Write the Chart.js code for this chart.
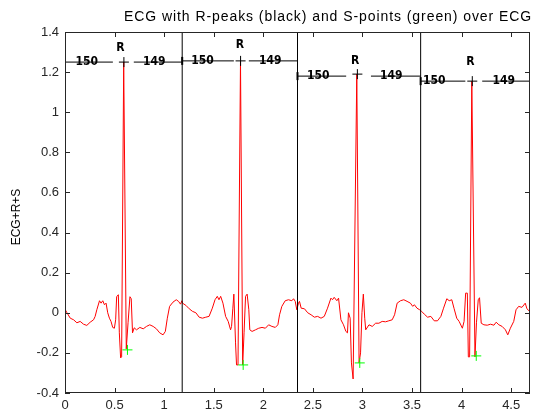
<!DOCTYPE html>
<html>
<head>
<meta charset="utf-8">
<script src="https://cdn.jsdelivr.net/npm/chart.js@4.4.1/dist/chart.umd.min.js"></script>
<style>
  body { margin: 0; background: #fff; }
  #ecgCanvas { display: block; }
</style>
</head>
<body>
<canvas id="ecgCanvas" width="536" height="414"></canvas>
<script>
// ECG trace (time in s, amplitude)
var ecgT = [
  0.003, 0.02, 0.053, 0.087, 0.12, 0.153, 0.187, 0.22, 0.254, 0.288, 0.304, 0.321, 0.348, 0.364, 0.381, 0.398,
  0.414, 0.431, 0.448, 0.464, 0.481, 0.498, 0.511, 0.521, 0.538, 0.548, 0.561, 0.571, 0.592, 0.618, 0.636, 0.655,
  0.668, 0.681, 0.698, 0.721, 0.755, 0.789, 0.822, 0.855, 0.889, 0.922, 0.955, 0.989, 1.012, 1.032, 1.055, 1.089,
  1.122, 1.145, 1.165, 1.179,
  1.185, 1.219, 1.253, 1.286, 1.32, 1.353, 1.386, 1.42, 1.453, 1.486, 1.513, 1.536, 1.553, 1.57, 1.593, 1.62,
  1.646, 1.67, 1.68, 1.693, 1.703, 1.72, 1.73, 1.745, 1.770, 1.792, 1.806, 1.821, 1.837, 1.854, 1.864, 1.887,
  1.921, 1.954, 1.987, 2.021, 2.054, 2.087, 2.121, 2.147, 2.164, 2.187, 2.221, 2.254, 2.288, 2.305, 2.322, 2.338,
  2.355,
  2.365, 2.382, 2.415, 2.448, 2.482, 2.515, 2.548, 2.582, 2.615, 2.648, 2.682, 2.698, 2.715, 2.742, 2.759, 2.783,
  2.809, 2.833, 2.849, 2.859, 2.876, 2.889, 2.906, 2.943, 2.966, 2.981, 2.995, 3.009, 3.023, 3.033, 3.066, 3.099,
  3.133, 3.166, 3.199, 3.233, 3.266, 3.3, 3.324, 3.35, 3.384, 3.417, 3.45, 3.484, 3.507, 3.524, 3.55, 3.577,
  3.597,
  3.624, 3.657, 3.69, 3.724, 3.757, 3.791, 3.818, 3.851, 3.875, 3.901, 3.925, 3.951, 3.975, 4.008, 4.025, 4.041,
  4.058, 4.068, 4.081, 4.103, 4.135, 4.15, 4.168, 4.181, 4.198, 4.225, 4.259, 4.292, 4.326, 4.349, 4.376, 4.409,
  4.442, 4.466, 4.492, 4.526, 4.549, 4.576, 4.609, 4.642, 4.659, 4.68
];
var ecgV = [
  0.015, 0.0, -0.027, -0.035, -0.05, -0.043, -0.057, -0.063, -0.047, -0.035, -0.018, 0.015, 0.06, 0.048, 0.06, 0.04,
  0.048, 0.0, -0.027, -0.043, -0.073, -0.077, -0.035, 0.08, 0.09, -0.1, -0.225, -0.22, 1.25, -0.18, -0.05, 0.08,
  0.07, -0.1, -0.075, -0.085, -0.073, -0.08, -0.068, -0.06, -0.068, -0.08, -0.1, -0.11, -0.093, -0.027, 0.032, 0.053,
  0.065, 0.057, 0.043, 0.06,
  0.048, 0.037, 0.02, 0.007, 0.0, -0.022, -0.027, -0.022, -0.018, 0.023, 0.065, 0.082, 0.065, 0.082, 0.048, -0.018,
  -0.043, -0.085, -0.068, 0.023, 0.093, -0.15, -0.26, -0.26, 1.256, -0.26, -0.1, 0.082, 0.093, 0.015, -0.085, -0.093,
  -0.085, -0.077, -0.073, -0.077, -0.06, -0.068, -0.073, -0.06, -0.01, 0.032, 0.06, 0.065, 0.06, 0.07, 0.057, 0.015,
  0.048,
  0.057, 0.023, 0.02, 0.0, -0.01, -0.022, -0.018, -0.027, -0.018, 0.023, 0.073, 0.065, 0.077, 0.06, 0.073, -0.035,
  -0.06, -0.093, -0.1, 0.0, -0.027, -0.25, -0.33, 1.19, -0.25, -0.2, 0.0, 0.093, -0.027, -0.085, -0.06, -0.068,
  -0.052, -0.052, -0.043, -0.045, -0.04, -0.035, -0.01, 0.048, 0.06, 0.065, 0.057, 0.048, 0.032, 0.04, 0.023, 0.015,
  0.007,
  -0.007, -0.022, -0.018, -0.04, -0.04, -0.018, 0.023, 0.07, 0.06, 0.065, 0.02, -0.027, -0.043, -0.077, -0.043, 0.098,
  0.098, -0.22, -0.22, 1.155, -0.22, -0.05, 0.065, 0.075, -0.052, -0.06, -0.062, -0.057, -0.062, -0.047, -0.06, -0.068,
  -0.085, -0.11, -0.077, -0.043, 0.015, 0.032, 0.027, 0.048, 0.02, 0.01
];

// R-peaks (black) and S-points (green)
var rT = [0.594, 1.771, 2.949, 4.108];
var rV = [1.25, 1.256, 1.19, 1.155];
var sT = [0.63, 1.797, 2.973, 4.148];
var sV = [-0.185, -0.26, -0.25, -0.215];

// beat windows
var winStart = [0, 1.182, 2.345, 3.587];
var winEnd = [1.182, 2.345, 3.587, 4.69];
var winLevel = [1.25, 1.256, 1.18, 1.155];
var gapFrom = [0.483, 1.703, 2.836, 4.038];
var gapTo = [0.694, 1.854, 3.086, 4.208];
var leftCount = ['150', '150', '150', '150'];
var rightCount = ['149', '149', '149', '149'];
var leftLabelT = [0.22, 1.386, 2.555, 3.724];
var rightLabelT = [0.9, 2.07, 3.29, 4.426];
var rLabelT = [0.56, 1.764, 2.926, 4.088];
var rLabelV = [1.32, 1.335, 1.255, 1.25];

var xTicks = [0, 0.5, 1, 1.5, 2, 2.5, 3, 3.5, 4, 4.5];
var xTickLabels = ['0', '0.5', '1', '1.5', '2', '2.5', '3', '3.5', '4', '4.5'];
var yTicks = [-0.4, -0.2, 0, 0.2, 0.4, 0.6, 0.8, 1, 1.2, 1.4];
var yTickLabels = ['-0.4', '-0.2', '0', '0.2', '0.4', '0.6', '0.8', '1', '1.2', '1.4'];

var ecgPoints = [];
for (var i = 0; i < ecgT.length; i++) {
  ecgPoints.push({x: ecgT[i], y: ecgV[i]});
}
var rPoints = [];
var sPoints = [];
for (var i = 0; i < rT.length; i++) {
  rPoints.push({x: rT[i], y: rV[i]});
  sPoints.push({x: sT[i], y: sV[i]});
}

// separators between windows
var sepPoints = [];
for (var i = 1; i < winStart.length; i++) {
  sepPoints.push({x: winStart[i], y: -0.4}, {x: winStart[i], y: 1.4}, {x: winStart[i], y: null});
}

// level lines through R, broken around the marker
var levelPoints = [];
var startPoints = [];
for (var i = 0; i < winStart.length; i++) {
  levelPoints.push({x: winStart[i], y: winLevel[i]}, {x: gapFrom[i], y: winLevel[i]}, {x: gapFrom[i], y: null});
  levelPoints.push({x: gapTo[i], y: winLevel[i]}, {x: winEnd[i], y: winLevel[i]}, {x: winEnd[i], y: null});
  startPoints.push({x: winStart[i], y: winLevel[i]});
}

var matlabFrame = {
  id: 'matlabFrame',
  afterDatasetsDraw: function(chart) {
    var ctx = chart.ctx;
    var a = chart.chartArea;
    var xs = chart.scales.x;
    var ys = chart.scales.y;
    ctx.save();
    ctx.strokeStyle = '#262626';
    ctx.lineWidth = 1;
    ctx.strokeRect(a.left + 0.5, a.top + 0.5, a.right - a.left - 1, a.bottom - a.top - 1);
    ctx.beginPath();
    for (var i = 0; i < xTicks.length; i++) {
      var px = Math.round(xs.getPixelForValue(xTicks[i])) + 0.5;
      ctx.moveTo(px, a.bottom);
      ctx.lineTo(px, a.bottom - 5);
      ctx.moveTo(px, a.top);
      ctx.lineTo(px, a.top + 5);
    }
    for (var j = 0; j < yTicks.length; j++) {
      var py = Math.round(ys.getPixelForValue(yTicks[j])) + 0.5;
      ctx.moveTo(a.left, py);
      ctx.lineTo(a.left + 5, py);
      ctx.moveTo(a.right, py);
      ctx.lineTo(a.right - 5, py);
    }
    ctx.stroke();

    // window counts and R letters
    ctx.fillStyle = '#000';
    ctx.textAlign = 'center';
    ctx.textBaseline = 'middle';
    ctx.font = 'bold 12px "DejaVu Sans Condensed", "Liberation Sans Narrow", sans-serif';
    for (var k = 0; k < winStart.length; k++) {
      var ly = ys.getPixelForValue(winLevel[k]);
      ctx.fillText(leftCount[k], xs.getPixelForValue(leftLabelT[k]), ly);
      ctx.fillText(rightCount[k], xs.getPixelForValue(rightLabelT[k]), ly);
      ctx.fillText('R', xs.getPixelForValue(rLabelT[k]), ys.getPixelForValue(rLabelV[k]));
    }

    // title, stretched to the width it takes in the picture
    var title = 'ECG with R-peaks (black) and S-points (green) over ECG';
    ctx.font = '14px "Liberation Sans", Arial, sans-serif';
    ctx.textAlign = 'left';
    var w = ctx.measureText(title).width;
    ctx.letterSpacing = Math.max(0, (407 - w) / (title.length - 1)).toFixed(2) + 'px';
    ctx.fillText(title, 124, 17);
    ctx.letterSpacing = '0px';

    ctx.font = '12px "Liberation Sans", Arial, sans-serif';
    ctx.textAlign = 'center';
    ctx.translate(17, 217);
    ctx.rotate(-Math.PI / 2);
    ctx.fillText('ECG+R+S', 0, 0);
    ctx.restore();
  }
};

var ctx = document.getElementById('ecgCanvas').getContext('2d');
var ecgChart = new Chart(ctx, {
  type: 'line',
  data: {
    datasets: [
      {
        label: 'S',
        data: sPoints,
        showLine: false,
        pointStyle: 'cross',
        pointRadius: 5,
        pointBorderWidth: 1,
        borderColor: '#00ff00',
        backgroundColor: '#00ff00'
      },
      {
        label: 'R',
        data: rPoints,
        showLine: false,
        pointStyle: 'cross',
        pointRadius: 5,
        pointBorderWidth: 1,
        borderColor: '#000',
        backgroundColor: '#000'
      },
      {
        label: 'start',
        data: startPoints,
        showLine: false,
        pointStyle: 'line',
        rotation: 90,
        pointRadius: 4,
        pointBorderWidth: 2,
        borderColor: '#000'
      },
      {
        label: 'level',
        data: levelPoints,
        borderColor: '#000',
        borderWidth: 1,
        pointRadius: 0,
        spanGaps: false
      },
      {
        label: 'sep',
        data: sepPoints,
        borderColor: '#000',
        borderWidth: 1,
        pointRadius: 0,
        spanGaps: false
      },
      {
        label: 'ECG',
        data: ecgPoints,
        borderColor: '#ff0000',
        borderWidth: 1,
        pointRadius: 0,
        tension: 0
      }
    ]
  },
  options: {
    responsive: false,
    animation: false,
    devicePixelRatio: 1,
    layout: {padding: {left: 0, right: 3, top: 32, bottom: 0}},
    plugins: {legend: {display: false}, tooltip: {enabled: false}},
    scales: {
      x: {
        type: 'linear',
        min: 0,
        max: 4.69,
        grid: {display: false, drawTicks: false},
        border: {display: false},
        afterBuildTicks: function(scale) {
          scale.ticks = xTicks.map(function(v) { return {value: v}; });
        },
        afterFit: function(scale) { scale.height = 21; },
        ticks: {
          autoSkip: false,
          maxRotation: 0,
          padding: 5,
          color: '#262626',
          font: {family: '"Liberation Sans", Arial, sans-serif', size: 13},
          callback: function(v, idx) { return xTickLabels[idx]; }
        }
      },
      y: {
        min: -0.4,
        max: 1.4,
        grid: {display: false, drawTicks: false},
        border: {display: false},
        afterBuildTicks: function(scale) {
          scale.ticks = yTicks.map(function(v) { return {value: v}; });
        },
        afterFit: function(scale) { scale.width = 65; },
        ticks: {
          autoSkip: false,
          padding: 6,
          color: '#262626',
          font: {family: '"Liberation Sans", Arial, sans-serif', size: 13},
          callback: function(v, idx) { return yTickLabels[idx]; }
        }
      }
    }
  },
  plugins: [matlabFrame]
});
</script>
</body>
</html>
